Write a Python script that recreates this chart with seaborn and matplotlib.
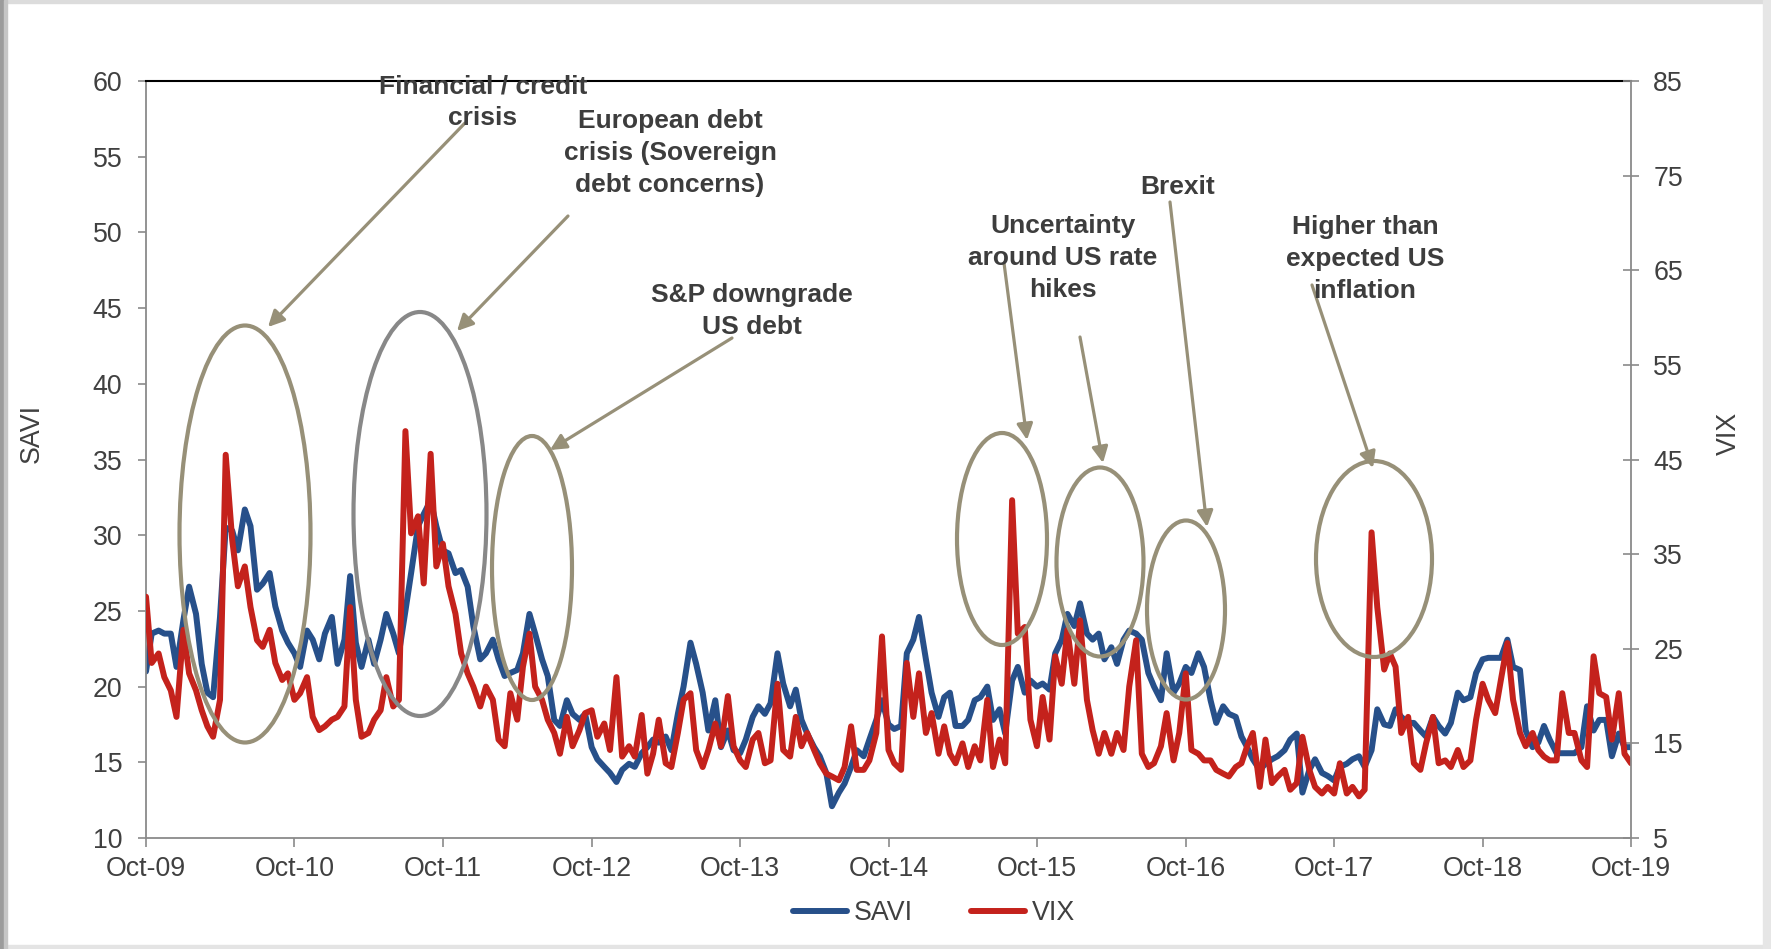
import matplotlib
matplotlib.use("Agg")
import matplotlib.pyplot as plt
import matplotlib.dates as mdates
from matplotlib.patches import Ellipse, Rectangle
from matplotlib.lines import Line2D
import pandas as pd
import seaborn as sns

# Semi-monthly readings, Oct-09 to Oct-19
savi = [
    21.0, 23.5, 23.7, 23.5, 23.5, 21.3, 24.4, 26.6, 24.8, 21.5, 19.6, 19.3,
    24.6, 30.5, 30.3, 29.0, 31.7, 30.6, 26.4, 26.8, 27.5, 25.3, 23.7, 22.9,
    22.2, 21.3, 23.7, 23.1, 21.8, 23.5, 24.6, 21.5, 23.1, 27.3, 22.9, 21.3,
    23.1, 21.5, 23.1, 24.8, 23.5, 22.2, 25.0, 27.5, 30.6, 31.4, 32.3, 30.6,
    29.0, 28.8, 27.5, 27.7, 26.6, 24.0, 21.8, 22.2, 23.1, 21.8, 20.7, 20.9,
    21.1, 22.2, 24.8, 23.5, 21.8, 20.7, 17.8, 17.4, 19.1, 18.2, 17.8, 18.2,
    16.0, 15.2, 14.7, 14.3, 13.7, 14.5, 14.9, 14.7, 15.6, 16.0, 16.5, 16.3,
    16.7, 15.8, 18.2, 20.0, 22.9, 21.5, 19.6, 17.1, 19.1, 16.0, 17.1, 15.8,
    15.6, 16.5, 18.0, 18.7, 18.2, 18.9, 22.2, 20.2, 18.7, 19.8, 17.8, 16.9,
    16.0, 15.4, 14.3, 12.1, 13.0, 13.6, 14.7, 15.8, 15.4, 16.5, 17.8, 19.1,
    17.5, 17.2, 17.4, 22.2, 23.1, 24.6, 21.8, 19.6, 18.0, 19.3, 19.6, 17.4,
    17.4, 17.8, 19.1, 19.3, 20.0, 17.8, 18.5, 16.9, 20.4, 21.3, 19.6, 20.4,
    20.0, 20.2, 19.8, 22.2, 23.1, 24.8, 24.0, 25.5, 23.5, 23.1, 23.5, 21.8,
    22.6, 21.5, 23.1, 23.7, 23.5, 23.1, 20.9, 20.0, 19.1, 22.2, 19.6, 20.2,
    21.3, 20.9, 22.2, 21.3, 19.1, 17.6, 18.7, 18.2, 18.0, 16.7, 16.0, 15.2,
    14.5, 14.9, 15.2, 15.4, 15.8, 16.5, 16.9, 13.0, 14.5, 15.2, 14.3, 14.1,
    13.8, 14.7, 14.9, 15.2, 15.4, 14.7, 15.8, 18.5, 17.5, 17.4, 18.5, 18.0,
    17.6, 17.6, 17.1, 16.7, 18.0, 17.4, 16.9, 17.6, 19.6, 19.1, 19.3, 20.9,
    21.8, 21.9, 21.9, 21.9, 23.1, 21.3, 21.1, 17.1, 16.0, 16.3, 17.4, 16.5,
    15.6, 15.6, 15.6, 15.6, 16.0, 18.7, 17.1, 17.8, 17.8, 15.4, 16.9, 16.0,
    16.0,
]

vix = [
    30.5, 23.5, 24.5, 22.0, 20.6, 17.8, 27.0, 22.4, 20.6, 18.5, 16.8, 15.7,
    19.6, 45.5, 36.5, 31.6, 33.7, 29.4, 25.9, 25.2, 27.0, 23.5, 21.7, 22.4,
    19.6, 20.3, 22.0, 17.8, 16.4, 16.8, 17.5, 17.8, 18.9, 29.4, 19.6, 15.7,
    16.1, 17.5, 18.5, 22.0, 18.9, 19.6, 48.0, 37.2, 39.0, 31.9, 45.6, 33.7,
    36.1, 31.6, 28.7, 24.5, 22.4, 21.0, 18.9, 21.0, 19.6, 15.4, 14.7, 20.3,
    17.5, 23.1, 26.6, 21.0, 19.6, 17.5, 16.1, 13.9, 17.8, 14.7, 16.4, 18.2,
    18.5, 15.7, 17.1, 14.3, 22.0, 13.6, 14.7, 13.6, 18.0, 11.8, 13.9, 17.5,
    12.9, 12.5, 16.1, 19.6, 20.3, 14.3, 12.5, 14.3, 17.1, 14.7, 20.0, 14.7,
    13.2, 12.5, 15.4, 16.1, 12.9, 13.2, 21.3, 14.3, 13.6, 17.8, 14.7, 16.1,
    14.3, 12.9, 11.8, 11.5, 11.1, 12.5, 16.8, 12.2, 12.2, 13.2, 16.1, 26.3,
    14.3, 12.9, 12.2, 23.5, 17.8, 22.4, 16.1, 18.2, 13.9, 16.8, 13.9, 12.9,
    15.0, 12.5, 14.7, 13.2, 19.6, 12.5, 15.4, 12.9, 40.7, 26.6, 27.3, 17.5,
    14.7, 19.9, 15.4, 24.2, 21.3, 27.0, 21.3, 28.0, 19.6, 16.4, 13.9, 16.1,
    13.9, 16.1, 14.3, 21.0, 25.9, 13.9, 12.5, 12.9, 14.7, 18.2, 13.2, 16.1,
    22.4, 14.3, 13.9, 13.2, 13.2, 12.2, 11.8, 11.5, 12.5, 12.9, 14.7, 16.1,
    10.4, 15.4, 10.8, 11.5, 12.2, 10.1, 10.8, 15.7, 12.2, 10.4, 9.7, 10.4,
    9.7, 12.9, 9.7, 10.4, 9.4, 10.1, 37.3, 29.4, 22.8, 24.5, 23.1, 16.1,
    17.8, 12.9, 12.2, 15.0, 17.8, 12.9, 13.2, 12.5, 14.3, 12.5, 13.2, 17.5,
    21.3, 19.6, 18.2, 21.7, 25.6, 19.6, 16.1, 14.7, 16.1, 14.3, 13.6, 13.2,
    13.2, 20.3, 16.1, 16.1, 13.2, 12.5, 24.2, 20.3, 19.9, 15.4, 20.3, 13.9,
    12.9,
]

events = [
    "Financial / credit\ncrisis",
    "European debt\ncrisis (Sovereign\ndebt concerns)",
    "S&P downgrade\nUS debt",
    "Uncertainty\naround US rate\nhikes",
    "Brexit",
    "Higher than\nexpected US\ninflation",
]

BLUE = "#27508a"
RED = "#c4221c"
KHAKI = "#979078"
GREY_RING = "#888888"
AXIS_GREY = "#8a8a8a"
TEXT = "#404040"

dates = pd.date_range("2009-10-01", periods=len(savi), freq="SMS")
df = pd.DataFrame({"date": dates, "SAVI": savi, "VIX": vix})

sns.set_theme(style="white")
plt.rcParams["font.family"] = ["Liberation Sans", "DejaVu Sans"]

W, H = 1771, 949
fig = plt.figure(figsize=(W / 100, H / 100), dpi=100)
fig.patch.set_facecolor("white")

# plot area in pixels: x 146..1631, y 81..838
L, R, T, B = 146, 1631, 81, 838
ax = fig.add_axes([L / W, 1 - B / H, (R - L) / W, (B - T) / H])

LW = 4.3
sns.lineplot(data=df, x="date", y="SAVI", ax=ax, color=BLUE, lw=LW, legend=False)
ax2 = ax.twinx()
sns.lineplot(data=df, x="date", y="VIX", ax=ax2, color=RED, lw=LW, legend=False)

ax.set_xlim(dates[0], dates[-1])
ax.set_ylim(10, 60)
ax.set_yticks(range(10, 61, 5))
ax2.set_ylim(5, 85)
ax2.set_yticks(range(5, 86, 10))
ax.xaxis.set_major_locator(mdates.YearLocator(month=10, day=1))
ax.xaxis.set_major_formatter(mdates.DateFormatter("%b-%y"))
ax.set_xlabel("")

fs = 19.3
for s in ["left", "bottom"]:
    ax.spines[s].set_color(AXIS_GREY)
    ax.spines[s].set_linewidth(1.3)
ax.spines["right"].set_visible(False)
ax.spines["top"].set_color("black")
ax.spines["top"].set_linewidth(1.5)
for s in ["left", "bottom", "top"]:
    ax2.spines[s].set_visible(False)
ax2.spines["right"].set_color(AXIS_GREY)
ax2.spines["right"].set_linewidth(1.3)

ax.tick_params(axis="y", direction="out", length=6, width=1.2, color=AXIS_GREY,
               labelsize=fs, labelcolor=TEXT, pad=11, left=True)
ax.tick_params(axis="x", direction="out", length=6.3, width=1.2, color=AXIS_GREY,
               labelsize=fs, labelcolor=TEXT, pad=7, bottom=True)
ax2.tick_params(axis="y", direction="inout", length=11, width=1.2, color=AXIS_GREY,
                labelsize=fs, labelcolor=TEXT, pad=10.5, right=True)

ax.set_ylabel("SAVI", fontsize=fs, color=TEXT)
ax.yaxis.label.set_va("center")
ax.yaxis.set_label_coords(-0.0768, 0.534)
ax2.set_ylabel("VIX", fontsize=fs, color=TEXT, rotation=90)
ax2.yaxis.label.set_va("center")
ax2.yaxis.set_label_coords(1.066, 0.534)


def frac(px, py):
    return ((px - L) / (R - L), (B - py) / (B - T))


# rings around the episodes: centre (px), width, height (px), colour
rings = [
    ((245, 534), 131, 417, KHAKI),
    ((420, 514), 133, 404, GREY_RING),
    ((532, 568), 80, 264, KHAKI),
    ((1002, 539), 90, 212, KHAKI),
    ((1100, 562), 87, 189, KHAKI),
    ((1186, 610), 78, 179, KHAKI),
    ((1374, 559), 116, 196, KHAKI),
]
for (cx, cy), w, h, col in rings:
    e = Ellipse(frac(cx, cy), w / (R - L), h / (B - T), transform=ax2.transAxes,
                fill=False, edgecolor=col, lw=3.0, zorder=6)
    ax2.add_patch(e)

# arrows from the captions to the rings: start, tip (px)
arrows = [
    ((465, 123), (268, 327)),
    ((568, 216), (457, 331)),
    ((732, 338), (550, 450)),
    ((1004, 263), (1027, 440)),
    ((1080, 337), (1103, 463)),
    ((1170, 202), (1207, 527)),
    ((1312, 285), (1373, 468)),
]
for start, tip in arrows:
    ax2.annotate("", xy=frac(*tip), xytext=frac(*start),
                 xycoords="axes fraction", textcoords="axes fraction",
                 arrowprops=dict(arrowstyle="-|>", color=KHAKI, lw=2.3,
                                 mutation_scale=24, shrinkA=0, shrinkB=0),
                 zorder=7, annotation_clip=False)

caption_pos = [(483, 102), (670, 153), (752, 311), (1063, 258), (1178, 187), (1365, 259)]
for text, (px, py) in zip(events, caption_pos):
    ax2.text(*frac(px, py), text, transform=ax2.transAxes, ha="center", va="center",
             fontsize=19, fontweight="bold", color="#3d3d3d", linespacing=1.4,
             zorder=8, clip_on=False)

handles = [Line2D([], [], color=BLUE, lw=LW), Line2D([], [], color=RED, lw=LW)]
fig.legend(handles, ["SAVI", "VIX"], loc="center", bbox_to_anchor=(0.5274, 0.038),
           ncol=2, frameon=False, fontsize=fs, handlelength=2.0,
           columnspacing=2.2, handletextpad=0.25, labelcolor=TEXT)

# page frame
def px_rect(x, y, w, h, col):
    fig.patches.append(Rectangle((x / W, 1 - (y + h) / H), w / W, h / H,
                                 transform=fig.transFigure, color=col, zorder=0))

px_rect(0, 0, W, 3, "#dcdcdc")
px_rect(0, H - 4, W, 4, "#e4e4e4")
px_rect(W - 8, 0, 8, H, "#e6e6e6")
px_rect(0, 0, 4, H, "#9c9c9c")
px_rect(4, 0, 3, H, "#c6c6c6")

fig.savefig("out.png", dpi=100, facecolor="white")
